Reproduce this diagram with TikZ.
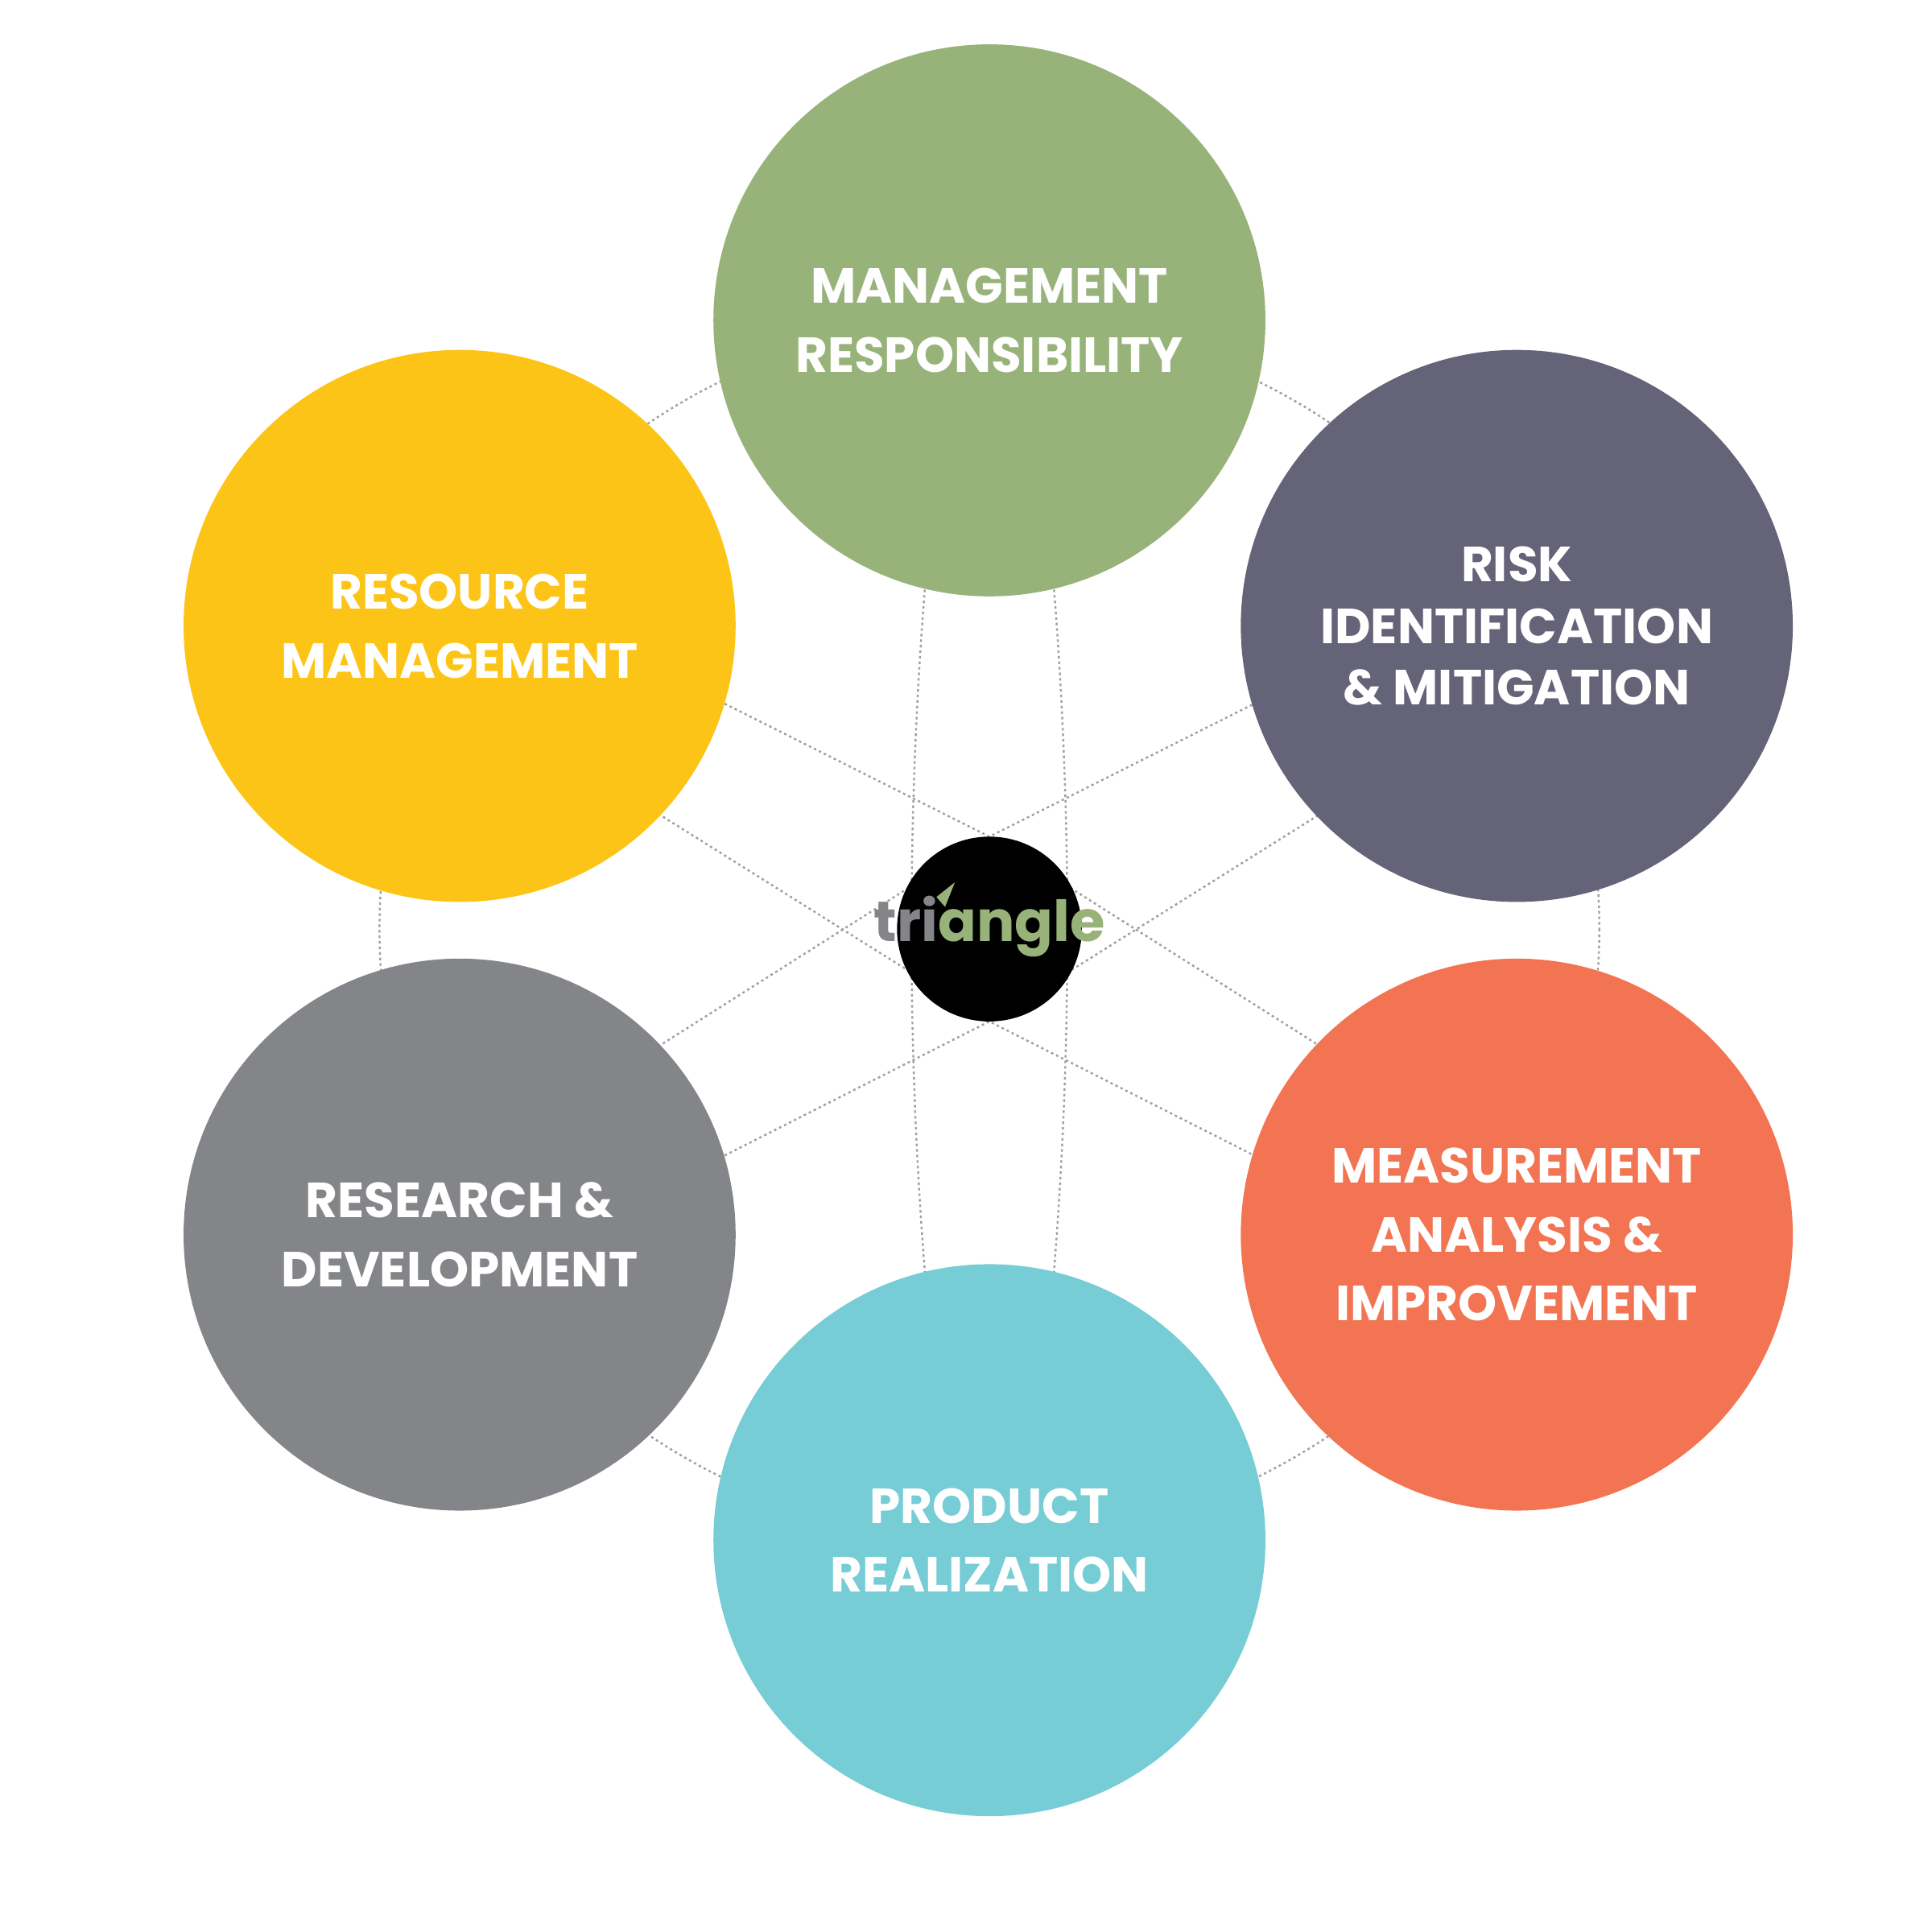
\documentclass[tikz,border=0pt]{standalone}
\usepackage{fontspec}
\setmainfont{Poppins}
\definecolor{cgreen}{HTML}{97B37A}
\definecolor{cyellow}{HTML}{FDC418}
\definecolor{cdark}{HTML}{656378}
\definecolor{cgray}{HTML}{848589}
\definecolor{corange}{HTML}{F27452}
\definecolor{ccyan}{HTML}{76CDD5}
\definecolor{dotc}{HTML}{A0A0A0}
\begin{document}
\begin{tikzpicture}[x=1pt,y=-1pt,
  bub/.style={circle,minimum size=448pt,inner sep=0pt,draw=none},
  lab/.style={text=white,align=center,font=\fontsize{40}{56}\selectfont\bfseries},
  dotl/.style={draw=dotc,line width=1.6pt,dash pattern=on 2pt off 2.5pt}]
\useasboundingbox (0,0) rectangle (1568,1568);
% coordinates
\coordinate (lt) at (803,679);
\coordinate (lb) at (803,829);
\coordinate (y1) at (560,557);
\coordinate (y2) at (500,639);
\coordinate (g1) at (500,871);
\coordinate (g2) at (560,952);
\coordinate (d1) at (1046,557);
\coordinate (d2) at (1106,639);
\coordinate (o1) at (1106,871);
\coordinate (o2) at (1046,952);
% connectors
\draw[dotl] (803,754) circle (495);
\draw[dotl] (y1) -- (lt) -- (d1);
\draw[dotl] (g2) -- (lb) -- (o2);
\draw[dotl] (y2) -- (lb) -- (d2);
\draw[dotl] (g1) -- (lt) -- (o1);
\draw[dotl] (760,380) .. controls (733,620) and (733,890) .. (760,1130);
\draw[dotl] (846,380) .. controls (873,620) and (873,890) .. (846,1130);
% bubbles
\node[bub,fill=cgreen] (mr) at (803,260) {};
\node[bub,fill=cyellow] (rm) at (373,508) {};
\node[bub,fill=cdark] (ri) at (1231,508) {};
\node[bub,fill=cgray] (rd) at (373,1002) {};
\node[bub,fill=corange] (ma) at (1231,1002) {};
\node[bub,fill=ccyan] (pr) at (803,1250) {};
\node[lab] at (mr) {MANAGEMENT\\RESPONSIBILITY};
\node[lab] at (rm) {RESOURCE\\MANAGEMENT};
\node[lab,font=\fontsize{40}{50}\selectfont\bfseries] at (ri) {RISK\\IDENTIFICATION\\\& MITIGATION};
\node[lab] at (rd) {RESEARCH \&\\DEVELOPMENT};
\node[lab] at (ma) {MEASUREMENT\\ANALYSIS \&\\IMPROVEMENT};
\node[lab] at (pr) {PRODUCT\\REALIZATION};
% logo
\node[circle,fill=black,minimum size=150pt,inner sep=0pt] (logo) at (803,754) {};
\node[font=\fontsize{46}{46}\selectfont\bfseries,inner sep=0pt] (lg) at (803,752)
  {\textcolor{cgray}{tri}\textcolor{cgreen}{angle}};
\fill[cgreen] (760,728) -- (775,716) -- (767,736) -- cycle;
\end{tikzpicture}
\end{document}
